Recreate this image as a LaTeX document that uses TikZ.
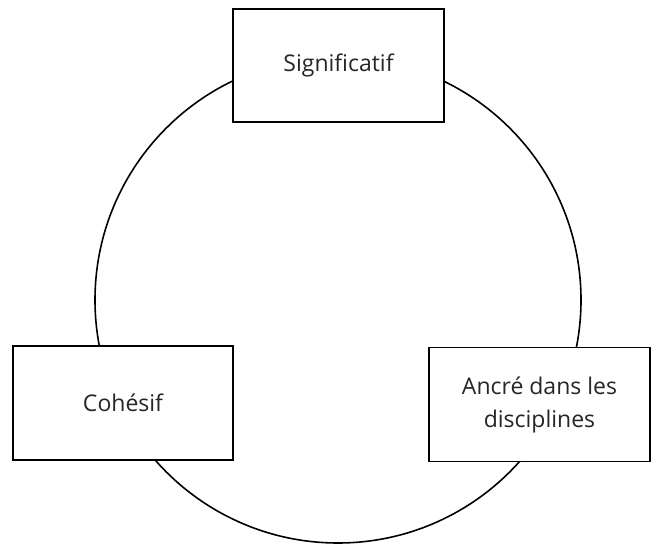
\documentclass[tikz,border=0pt]{standalone}
\usepackage{fontspec}
\setmainfont{Open Sans}
\usepackage{tikz}

\tikzset{
    themebox/.style={draw, line width=1.6pt, fill=white, align=center,
        font=\fontsize{23}{33}\selectfont, text=black!85}
}

\begin{document}
\begin{tikzpicture}[x=1pt, y=1pt]

% Page frame
\useasboundingbox (0,0) rectangle (652,545);

% Big circle behind the boxes
\draw[line width=1.6pt] (338,245) circle (243);

% Three boxes on the circle
\node[themebox, minimum width=211, minimum height=113] (signif) at (338.5,479.5) {Significatif};
\node[themebox, minimum width=220, minimum height=114] (cohes) at (123,142) {Cohésif};
\node[themebox, minimum width=221, minimum height=114] (ancre) at (539.5,140.5) {Ancré dans les\\disciplines};

\end{tikzpicture}
\end{document}
